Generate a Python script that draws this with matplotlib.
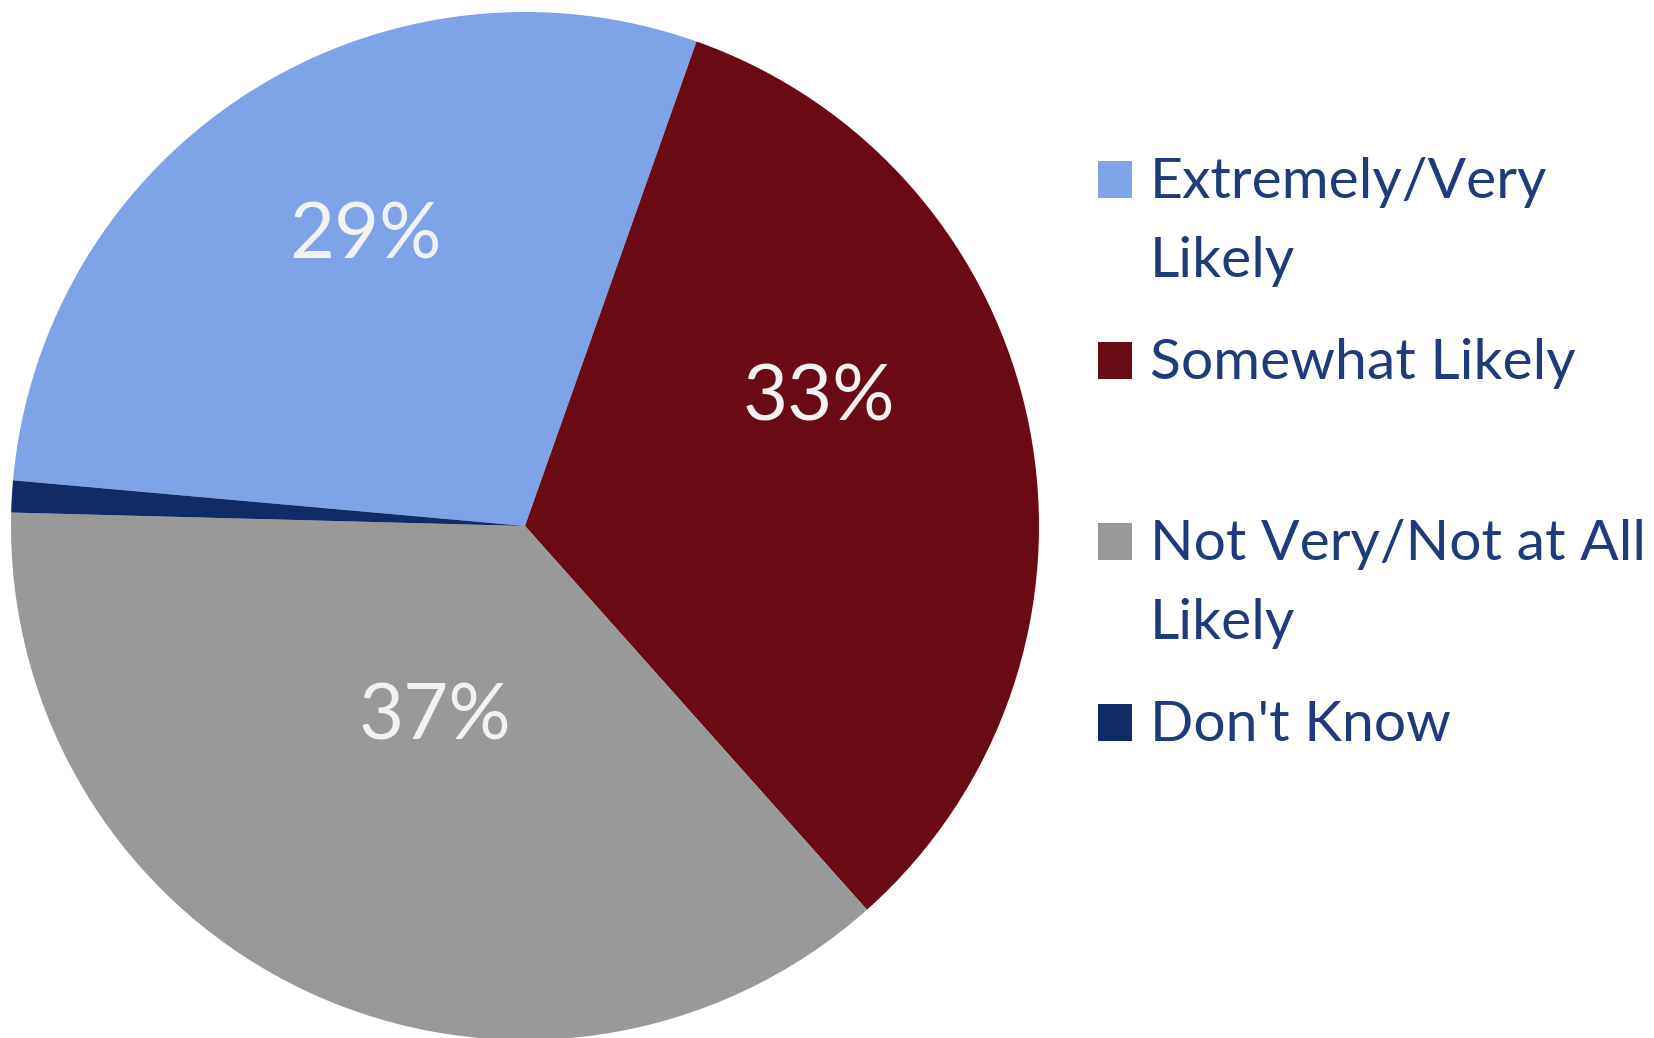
import matplotlib.pyplot as plt
from matplotlib.patches import Rectangle

# Datos del gráfico
categorias = ['Extremely/Very\nLikely', 'Somewhat Likely',
              'Not Very/Not at All\nLikely', "Don't Know"]
valores = [29, 33, 37, 1]
colores = ['#7FA3E7', '#6A0A15', '#999999', '#102B65']

# Posiciones de las etiquetas (en unidades del radio)
pos_etiquetas = [(-0.31, 0.563), (0.572, 0.248), (-0.175, -0.374), None]

plt.rcParams['font.family'] = ['Lato', 'DejaVu Sans']

fig = plt.figure(figsize=(16.54, 10.38), dpi=100)
W, H = 1654, 1038
cx, cy, r = 525, 526, 514
ax = fig.add_axes([(cx - r) / W, (H - cy - r) / H, 2 * r / W, 2 * r / H])

wedges, textos, autotextos = ax.pie(
    valores, colors=colores, startangle=174.9, counterclock=False,
    autopct=lambda p: f'{p:.0f}%' if p > 2 else '',
    textprops={'color': '#F2F2F2', 'fontsize': 56},
    wedgeprops={'linewidth': 0})
for t, pos in zip(autotextos, pos_etiquetas):
    if pos is not None:
        t.set_position(pos)
        t.set_ha('center')
        t.set_va('center')
ax.set_xlim(-1, 1)
ax.set_ylim(-1, 1)
ax.set_aspect('equal')
ax.axis('off')

# Leyenda manual (el cuadro alineado con la primera línea)
x_cuadro = 1098
x_texto = 1150
base0 = 198
paso = 181
interlinea = 79
for i, (cat, col) in enumerate(zip(categorias, colores)):
    base = base0 + i * paso
    fig.patches.append(Rectangle((x_cuadro / W, (H - base) / H), 34 / W, 37 / H,
                                 transform=fig.transFigure, facecolor=col,
                                 edgecolor='none'))
    for k, linea in enumerate(cat.split('\n')):
        fig.text(x_texto / W, (H - base - k * interlinea) / H, linea,
                 color='#1F3B7C', fontsize=41, ha='left', va='baseline')

fig.savefig('out.png', dpi=100)
